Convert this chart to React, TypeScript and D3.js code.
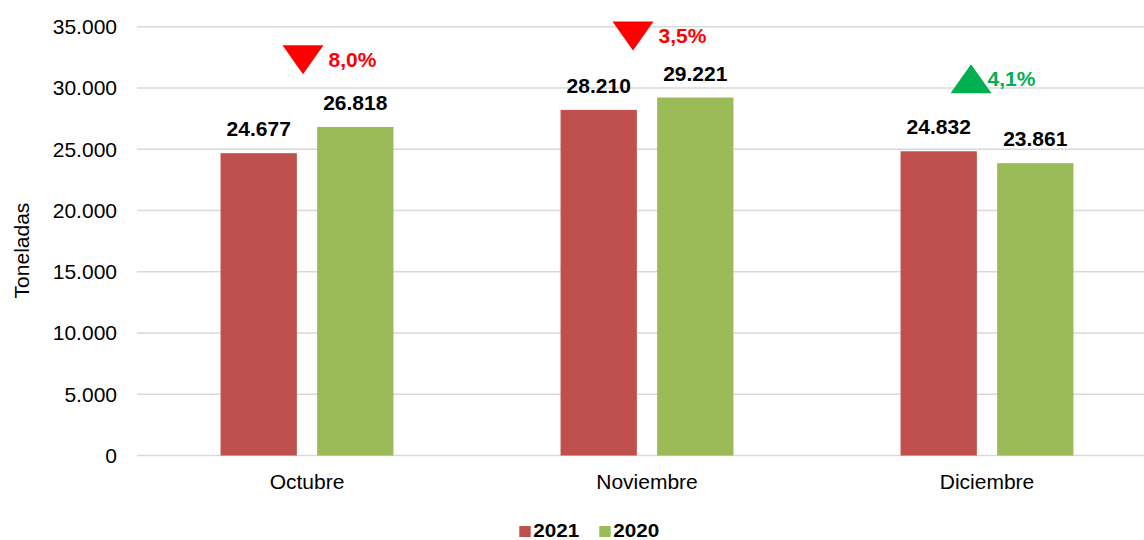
import React from "react";
import * as d3 from "d3";

const categories = ["Octubre", "Noviembre", "Diciembre"];
const seriesNames = ["2021", "2020"];
const values2021 = [24677, 28210, 24832];
const values2020 = [26818, 29221, 23861];
const yTicks = [0, 5000, 10000, 15000, 20000, 25000, 30000, 35000];
// vertical anchor (in data units) of the change markers
const markerLevels = [32300, 34250, 30750];
const markerShift = [-4, -14, -16];

const colors = ["#C0504D", "#9BBB59"];
const W = 1144;
const H = 540;
const FONT = "'Liberation Sans', Arial, Helvetica, sans-serif";

const loc = d3.formatLocale({ decimal: ",", thousands: ".", grouping: [3], currency: ["", ""] });
const fmtInt = loc.format(",.0f");
const fmt1 = loc.format(",.1f");

export default function App() {
  const y = d3.scaleLinear().domain([0, 35000]).range([455.5, 26.7]);
  const x = d3.scaleBand<string>().domain(categories).range([137, 1157]).padding(0);
  const xs = d3
    .scaleBand<string>()
    .domain(seriesNames)
    .range([0, x.bandwidth()])
    .paddingInner(0.21)
    .paddingOuter(0.865);
  const seriesValues = [values2021, values2020];

  return (
    <svg
      width={W}
      height={H}
      style={{ position: "absolute", left: 0, top: 0, display: "block", background: "#fff" }}
      fontFamily={FONT}
    >
      {yTicks.map((t) => (
        <g key={t}>
          <line x1={137} x2={W} y1={y(t)} y2={y(t)} stroke="#D9D9D9" strokeWidth={1.5} />
          <text x={117} y={y(t)} dy="0.35em" textAnchor="end" fontSize={21} fill="#000">
            {fmtInt(t)}
          </text>
        </g>
      ))}
      <text
        transform={`translate(28.5,250.5) rotate(-90)`}
        textAnchor="middle"
        fontSize={21}
        fill="#000"
      >
        Toneladas
      </text>
      {categories.map((c, i) => (
        <g key={c}>
          {seriesNames.map((s, j) => {
            const v = seriesValues[j][i];
            const bx = (x(c) as number) + (xs(s) as number);
            return (
              <g key={s}>
                <rect
                  x={bx}
                  y={y(v)}
                  width={xs.bandwidth()}
                  height={y(0) - y(v)}
                  fill={colors[j]}
                />
                <text
                  x={bx + xs.bandwidth() / 2}
                  y={y(v) - 17}
                  textAnchor="middle"
                  fontSize={21}
                  fontWeight="bold"
                  fill="#000"
                >
                  {fmtInt(v)}
                </text>
              </g>
            );
          })}
          <text
            x={(x(c) as number) + x.bandwidth() / 2}
            y={y(0) + 33.5}
            textAnchor="middle"
            fontSize={21}
            fill="#000"
          >
            {c}
          </text>
        </g>
      ))}
      {categories.map((c, i) => {
        const ch = ((values2021[i] - values2020[i]) / values2020[i]) * 100;
        const up = ch >= 0;
        const cx = (x(c) as number) + x.bandwidth() / 2 + markerShift[i];
        const cy = y(markerLevels[i]);
        const hw = 20.5;
        const hh = 14.5;
        const pts = up
          ? `${cx - hw},${cy + hh} ${cx + hw},${cy + hh} ${cx},${cy - hh}`
          : `${cx - hw},${cy - hh} ${cx + hw},${cy - hh} ${cx},${cy + hh}`;
        const col = up ? "#00B050" : "#FF0000";
        return (
          <g key={"m" + c}>
            <polygon points={pts} fill={col} />
            <text
              x={cx + (up ? 16.5 : 25.5)}
              y={cy}
              dy="0.35em"
              fontSize={21}
              fontWeight="bold"
              fill={col}
            >
              {fmt1(Math.abs(ch)) + "%"}
            </text>
          </g>
        );
      })}
      {seriesNames.map((s, j) => (
        <g key={"l" + s} transform={`translate(${519.3 + j * 80},0)`}>
          <rect x={0} y={526} width={11.4} height={11} fill={colors[j]} />
          <text x={14} y={537} fontSize={19} fontWeight="bold" fill="#000" textLength={46} lengthAdjust="spacingAndGlyphs">
            {s}
          </text>
        </g>
      ))}
    </svg>
  );
}
